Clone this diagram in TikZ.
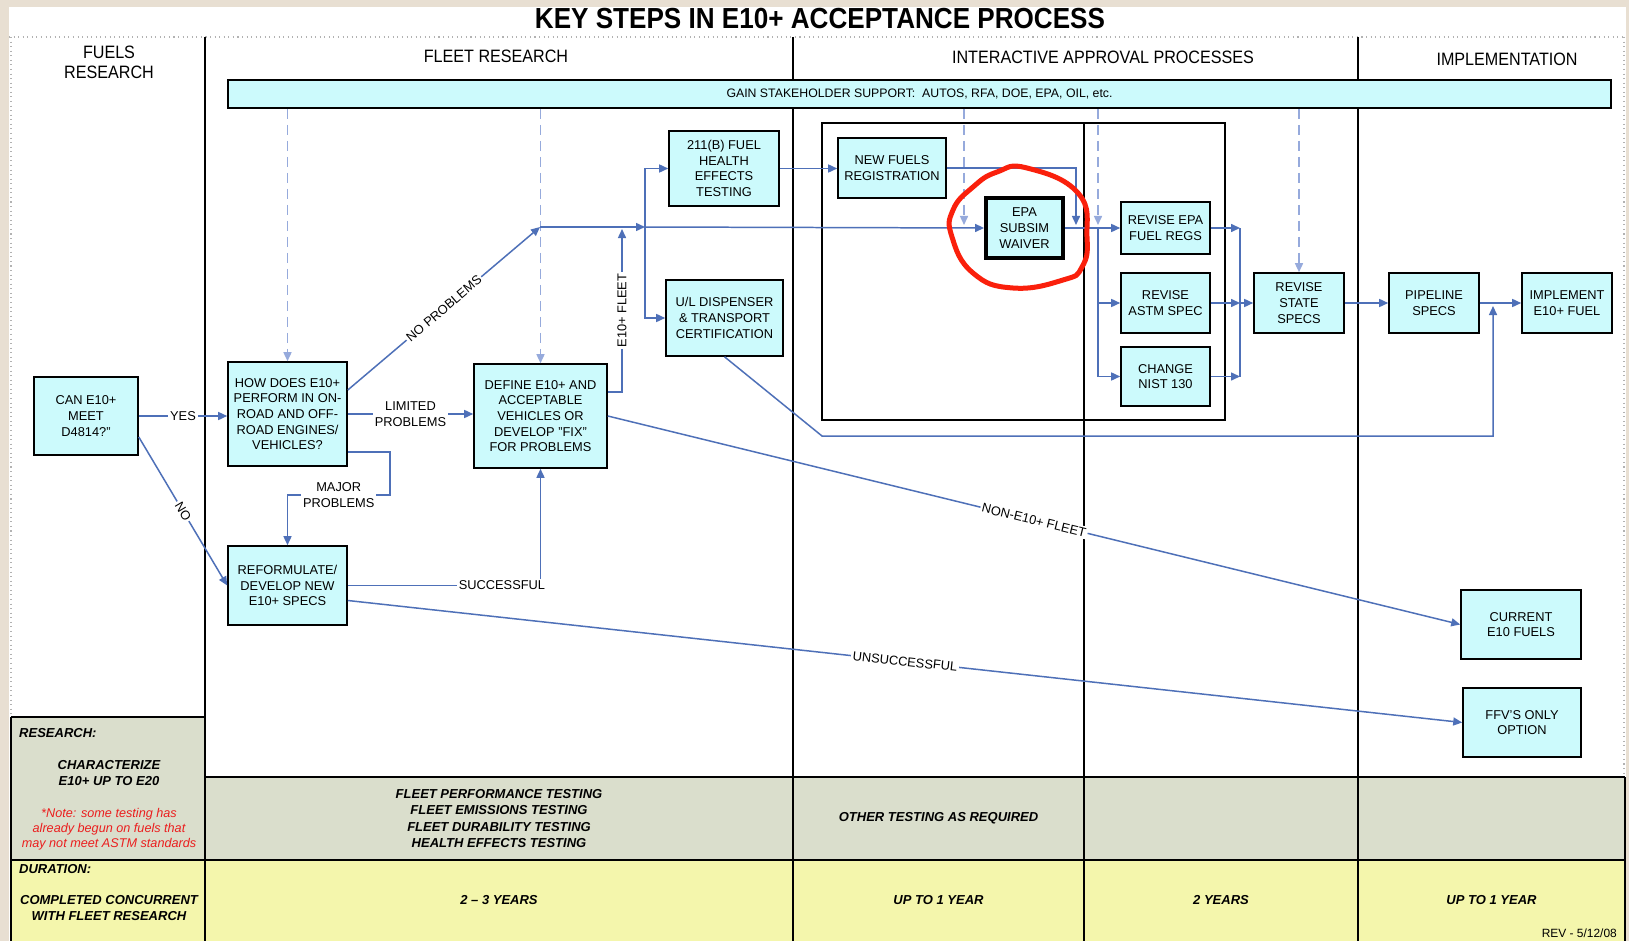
\documentclass[tikz,border=0pt]{standalone}
\usepackage{fontspec}
\usepackage{xcolor}
\usepackage{tikz}
\usetikzlibrary{calc,arrows.meta}
\setmainfont{Liberation Sans}
\newfontfamily\narrowsans{Liberation Sans}[FakeStretch=0.9]

\definecolor{paper}{RGB}{232,223,210}
\definecolor{boxcyan}{RGB}{204,250,252}
\definecolor{flowblue}{RGB}{78,112,184}
\definecolor{feedblue}{RGB}{150,170,220}
\definecolor{testgray}{RGB}{218,222,204}
\definecolor{timeyellow}{RGB}{244,246,172}
\definecolor{markred}{RGB}{250,32,12}
\definecolor{notered}{RGB}{235,30,30}

\newcommand{\boxtxt}{\fontsize{7.3}{8.9}\selectfont}
\newcommand{\headtxt}{\narrowsans\fontsize{10.2}{11.4}\selectfont}
\newcommand{\rowtxt}{\fontsize{7.4}{9.3}\selectfont\bfseries\itshape}

\begin{document}
\begin{tikzpicture}[x=0.2mm,y=-0.2mm,>={Triangle[length=1.8mm,width=1.6mm]},
	dims/.style 2 args={minimum width=#1*0.2mm,minimum height=#2*0.2mm},
	box/.style={draw,line width=0.9pt,fill=boxcyan,align=center,inner sep=0pt,font=\boxtxt},
	wire/.style={draw=flowblue,line width=0.85pt},
	flow/.style={wire,->},
	feed/.style={->,draw=feedblue,line width=0.85pt,dash pattern=on 2mm off 1.2mm},
	lbl/.style={fill=white,inner sep=1pt,font=\boxtxt,align=center},
	divider/.style={line width=0.9pt},
	rowlbl/.style={font=\rowtxt,align=center}]
	\useasboundingbox (0,0) rectangle (1629,941);
	\fill[paper] (0,0) rectangle (1629,941);
	\fill[white] (9,7) rectangle (1626,941);
	
	% title and column heads
	\node[font=\narrowsans\bfseries\fontsize{16.5}{18}\selectfont] (title) at (820,19) {KEY STEPS IN E10+ ACCEPTANCE PROCESS};
	\draw[gray!60,dotted,line width=0.6pt] (9,37) -- (1626,37);
	\draw[gray!60,dotted,line width=0.6pt] (11,37) -- (11,717);
	\draw[gray!60,dotted,line width=0.6pt] (1624,37) -- (1624,777);
	\node[font=\headtxt,align=center] (fuelshead) at (109,62) {FUELS\\RESEARCH};
	\node[font=\headtxt] (fleethead) at (496,56) {FLEET RESEARCH};
	\node[font=\headtxt] (approvalhead) at (1103,57) {INTERACTIVE APPROVAL PROCESSES};
	\node[font=\headtxt] (implhead) at (1507,59) {IMPLEMENTATION};
	
	% bottom table
	\fill[testgray] (11,717) rectangle (205,860);
	\fill[testgray] (205,777) rectangle (1625,860);
	\fill[timeyellow] (11,860) rectangle (1625,941);
	\draw[divider] (11,717) -- (205,717);
	\draw[divider] (205,777) -- (1625,777);
	\draw[divider] (11,860) -- (1625,860);
	\draw[divider] (11,717) -- (11,941);
	\draw[divider] (1625,777) -- (1625,941);
	\foreach \x in {205,793,1358}
		\draw[divider] (\x,37) -- (\x,941);
	\draw[divider] (1084,123) -- (1084,941);
	\draw[divider] (822,123) rectangle (1225,420);
	
	\node[anchor=west,font=\rowtxt] (research) at (13,733) {RESEARCH:};
	\node[rowlbl] (characterize) at (109,773) {CHARACTERIZE\\E10+ UP TO E20};
	\node[font=\fontsize{7.2}{8.6}\selectfont\itshape,text=notered,align=center] (note) at (109,829) {*Note: some testing has\\already begun on fuels that\\may not meet ASTM standards};
	\node[rowlbl] (fleettests) at (499,818.5) {FLEET PERFORMANCE TESTING\\FLEET EMISSIONS TESTING\\FLEET DURABILITY TESTING\\HEALTH EFFECTS TESTING};
	\node[rowlbl] (othertests) at (938.5,818) {OTHER TESTING AS REQUIRED};
	\node[anchor=west,font=\rowtxt] (duration) at (13,869) {DURATION:};
	\node[rowlbl] (concurrent) at (109,908) {COMPLETED CONCURRENT\\WITH FLEET RESEARCH};
	\node[rowlbl] (fleettime) at (499,900) {2 – 3 YEARS};
	\node[rowlbl] (approvaltime) at (938.5,900) {UP TO 1 YEAR};
	\node[rowlbl] (statetime) at (1221,900) {2 YEARS};
	\node[rowlbl] (impltime) at (1491.5,900) {UP TO 1 YEAR};
	\node[anchor=east,font=\fontsize{6.8}{8}\selectfont] (rev) at (1623,933) {REV - 5/12/08};
	
	% boxes
	\node[box,dims={1383}{28},font=\fontsize{7}{8}\selectfont] (bar) at (919.5,94) {GAIN STAKEHOLDER SUPPORT:\ \ AUTOS, RFA, DOE, EPA, OIL, etc.};
	\node[box,dims={104}{78}] (can) at (86,416) {CAN E10+\\MEET\\D4814?"};
	\node[box,dims={119}{104}] (how) at (287.5,414) {HOW DOES E10+\\PERFORM IN ON-\\ROAD AND OFF-\\ROAD ENGINES/\\VEHICLES?};
	\node[box,dims={119}{79}] (reform) at (287.5,585.5) {REFORMULATE/\\DEVELOP NEW\\E10+ SPECS};
	\node[box,dims={133}{104}] (define) at (540.5,416) {DEFINE E10+ AND\\ACCEPTABLE\\VEHICLES OR\\DEVELOP "FIX"\\FOR PROBLEMS};
	\node[box,dims={110}{75}] (health) at (724,168.5) {211(B) FUEL\\HEALTH\\EFFECTS\\TESTING};
	\node[box,dims={117}{76}] (ul) at (724.5,318) {U/L DISPENSER\\\& TRANSPORT\\CERTIFICATION};
	\node[box,dims={108}{60}] (newfuels) at (892,168) {NEW FUELS\\REGISTRATION};
	\node[box,dims={77}{60},line width=2.2pt] (epa) at (1024.5,228) {EPA\\SUBSIM\\WAIVER};
	\node[box,dims={89}{52}] (revepa) at (1165.5,228) {REVISE EPA\\FUEL REGS};
	\node[box,dims={89}{60}] (astm) at (1165.5,303) {REVISE\\ASTM SPEC};
	\node[box,dims={89}{59}] (nist) at (1165.5,376.5) {CHANGE\\NIST 130};
	\node[box,dims={90}{60}] (state) at (1299,303) {REVISE\\STATE\\SPECS};
	\node[box,dims={90}{60}] (pipeline) at (1434,303) {PIPELINE\\SPECS};
	\node[box,dims={90}{60}] (implement) at (1567,303) {IMPLEMENT\\E10+ FUEL};
	\node[box,dims={120}{69}] (current) at (1521,624.5) {CURRENT\\E10 FUELS};
	\node[box,dims={118}{69}] (ffv) at (1522,722.5) {FFV'S ONLY\\OPTION};
	
	% joints
	\coordinate (merge) at (540,227);
	\coordinate (split) at (645,227);
	\coordinate (fleetup) at (622,229);
	\coordinate (nfdrop) at (1076,225);
	\coordinate (epadrop) at (964,225);
	\coordinate (regdrop) at (1098,225);
	\coordinate (fork) at (1098,227);
	\coordinate (collect) at (1240,303);
	\coordinate (ulturn) at (822,436);
	\coordinate (retup) at (1493,306);
	\coordinate (majturn) at (390,495);
	
	% stakeholder feeds
	\draw[feed] (bar.south -| how.north) -- (how.north);
	\draw[feed] (bar.south -| define.north) -- (define.north);
	\draw[feed] (bar.south -| epadrop) -- (epadrop);
	\draw[feed] (bar.south -| regdrop) -- (regdrop);
	\draw[feed] (bar.south -| state.north) -- (state.north);
	
	% flow
	\draw[flow] (can.east) -- node[lbl]{YES} (can.east -| how.west);
	\draw[flow] ($(can.east)+(0,21)$) -- node[lbl,sloped]{NO} (reform.west);
	\draw[flow] ($(how.east)+(0,-24)$) -- node[lbl,sloped]{NO PROBLEMS} (merge);
	\draw[flow] (how.east) -- node[lbl]{LIMITED\\PROBLEMS} (how.east -| define.west);
	\draw[flow] ($(how.east)+(0,38)$) -| (majturn) -| node[lbl,pos=0.25]{MAJOR\\PROBLEMS} (reform.north);
	\draw[flow] (reform.east) -| node[lbl,pos=0.4]{SUCCESSFUL} (define.south);
	\draw[flow] ($(reform.east)+(0,15)$) -- node[lbl,sloped]{UNSUCCESSFUL} (ffv.west);
	\draw[flow] (define.east) -- node[lbl,sloped]{NON-E10+ FLEET} (current.west);
	\draw[flow] ($(define.east)+(0,-24)$) -| node[lbl,pos=0.75,rotate=90]{E10+ FLEET} (fleetup);
	
	\draw[flow] (merge) -- (split);
	\draw[flow] (split) -- (epa.west);
	\draw[flow] (split) |- (health.west);
	\draw[flow] (split) |- (ul.west);
	\draw[flow] (health.east) -- (health.east -| newfuels.west);
	\draw[flow] (newfuels.east) -| (nfdrop);
	\draw[flow] (epa.east) -- (epa.east -| revepa.west);
	\draw[flow] (fork) |- (astm.west);
	\draw[flow] (fork) |- (nist.west);
	\draw[wire] (collect |- revepa.east) -- (collect |- nist.east);
	\draw[flow] (revepa.east) -- (revepa.east -| collect);
	\draw[flow] (astm.east) -- (collect);
	\draw[flow] (nist.east) -- (nist.east -| collect);
	\draw[flow] (collect) -- (state.west);
	\draw[flow] (state) -- (pipeline);
	\draw[flow] (pipeline) -- (implement);
	\draw[flow] (ul.south) -- (ulturn) -| (retup);
	
	% hand drawn mark
	\draw[markred,line width=1mm] plot[smooth cycle,tension=0.8] coordinates {(1027,168) (1078,193) (1087,237) (1082,267) (1063,280) (1013,288) (973,273) (952,237) (953,210) (973,187) (997,172)};
\end{tikzpicture}
\end{document}
